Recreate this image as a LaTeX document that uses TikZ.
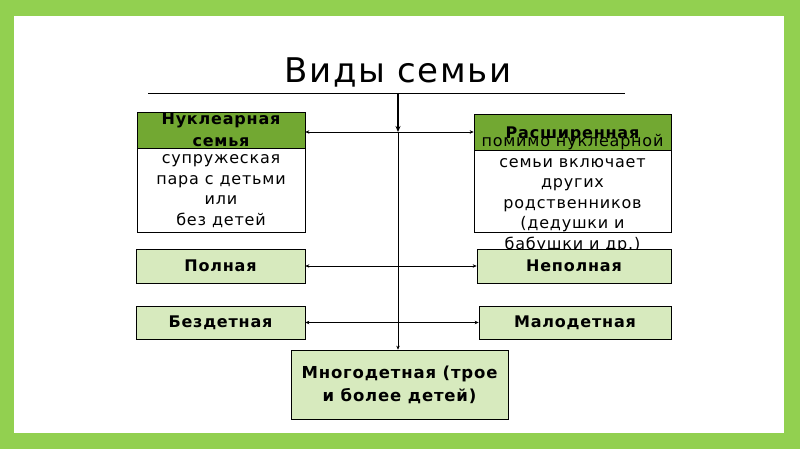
\documentclass[tikz,border=0pt]{standalone}
\usepackage{fontspec}
\setmainfont[LetterSpace=5]{DejaVu Sans}
\usetikzlibrary{arrows.meta}
\definecolor{frame}{RGB}{146,208,80}
\definecolor{hdr}{RGB}{114,168,50}
\definecolor{lgreen}{RGB}{215,234,190}
\tikzset{
  hdrbox/.style={draw=black, fill=hdr, line width=0.7pt, inner sep=0pt},
  bodybox/.style={draw=black, fill=white, line width=0.7pt, inner sep=0pt},
  lgbox/.style={draw=black, fill=lgreen, line width=0.7pt, inner sep=0pt, font=\fontsize{16}{20}\selectfont\bfseries},
  txt/.style={align=center, inner sep=0pt},
  conn/.style={line width=0.6pt},
  tip/.style={-{Stealth[length=4pt,width=3.5pt]}},
  tips/.style={{Stealth[length=4pt,width=3.5pt]}-{Stealth[length=4pt,width=3.5pt]}}
}
\begin{document}
\begin{tikzpicture}[x=1pt,y=-1pt]
\useasboundingbox (0,0) rectangle (800,449);
\fill[frame] (0,0) rectangle (800,449);
\fill[white] (14,16) rectangle (784,433);
% title
\node[txt, font=\fontsize{34}{38}\selectfont] (title) at (398,72) {Виды семьи};
\coordinate (tl) at (148,93);
\coordinate (tr) at (625,93);
\coordinate (top) at (398,93);
\draw[conn] (tl) -- (tr);
% left header + body
\node[hdrbox, minimum width=168, minimum height=36] (nukh) at (221,130) {};
\node[txt, font=\fontsize{16}{22}\selectfont\bfseries] (nukt) at (221,130) {Нуклеарная\\семья};
\node[bodybox, minimum width=168, minimum height=84, anchor=north] (nukb) at (221,148) {};
\node[txt, font=\fontsize{16}{20.5}\selectfont] (nukbt) at (221,191) {супружеская\\пара с детьми\\или\\без детей};
% right header + body
\node[hdrbox, minimum width=197, minimum height=36] (rash) at (572.5,132) {};
\node[txt, font=\fontsize{16}{20}\selectfont\bfseries] (rast) at (572.5,134) {Расширенная};
\node[bodybox, minimum width=197, minimum height=82, anchor=north] (rasb) at (572.5,150) {};
\node[txt, font=\fontsize{16}{20.6}\selectfont] (rasbt) at (572.5,193.5) {помимо нуклеарной\\семьи включает\\других\\родственников\\(дедушки и\\бабушки и др.)};
% light boxes
\node[lgbox, minimum width=169, minimum height=34] (poln) at (220.5,266) {Полная};
\node[lgbox, minimum width=194, minimum height=34] (nepoln) at (574,266) {Неполная};
\node[lgbox, minimum width=169, minimum height=33] (bezd) at (220.5,322.5) {Бездетная};
\node[lgbox, minimum width=192, minimum height=33] (malod) at (575,322.5) {Малодетная};
\node[lgbox, minimum width=217, minimum height=69, align=center, font=\fontsize{16.5}{23}\selectfont\bfseries] (mnogo) at (399.5,384.5) {Многодетная (трое\\и более детей)};
% connectors
\coordinate (j1) at (398,132);
\draw[line width=2pt, -{Stealth[length=6pt,width=5pt]}] (top) -- (j1);
\draw[conn, tip] (j1) -- (mnogo.north -| j1);
\draw[conn, tips] (nukh.east |- j1) -- (rash.west |- j1);
\draw[conn, tips] (poln.east) -- (nepoln.west);
\draw[conn, tips] (bezd.east) -- (malod.west);
\end{tikzpicture}
\end{document}
